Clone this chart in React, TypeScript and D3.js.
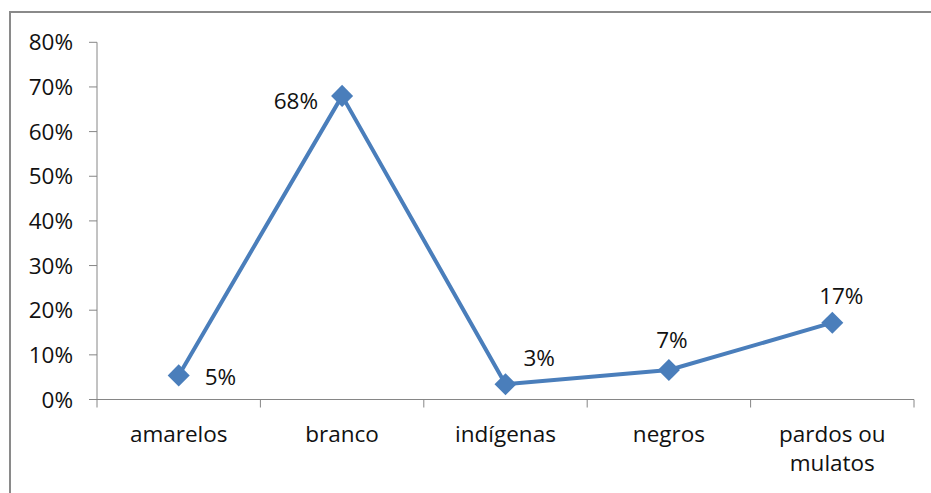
import React from "react";
import * as d3 from "d3";

const categories = ["amarelos", "branco", "indígenas", "negros", "pardos ou mulatos"];
const shares = [0.054, 0.68, 0.034, 0.066, 0.172];
const yTicks = [0, 0.1, 0.2, 0.3, 0.4, 0.5, 0.6, 0.7, 0.8];

const W = 931;
const H = 493;
const plot = { left: 97, right: 914, top: 42.3, bottom: 399.5 };
const FONT = "'Open Sans', 'Noto Sans', sans-serif";
const FS = 22.5;
const INK = "#111";
const LINE = "#4a7ebb";
const AXIS = "#868686";

// label offsets relative to each point: [dx, dy, anchor]
const labelPos: [number, number, string][] = [
  [26, 2, "start"],
  [-24, 5.5, "end"],
  [18, -26, "start"],
  [3, -30, "middle"],
  [9, -27, "middle"],
];

export default function App() {
  const x = d3.scaleBand<string>().domain(categories).range([plot.left, plot.right]);
  const y = d3.scaleLinear().domain([0, 0.8]).range([plot.bottom, plot.top]);
  const fmt = d3.format(".0%");
  const cx = (c: string) => (x(c) as number) + x.bandwidth() / 2;

  const line = d3
    .line<number>()
    .x((_, i) => cx(categories[i]))
    .y((d) => y(d));

  const diamond = d3.symbol(d3.symbolDiamond2, 310)();
  const boundaries = [...categories.map((c) => x(c) as number), plot.right];

  return (
    <svg width={W} height={H} style={{ position: "absolute", left: 0, top: 0, background: "#fff" }}>
      {/* outer frame */}
      <rect x={10} y={12} width={W + 10} height={H + 10} fill="none" stroke="#8a8a8a" strokeWidth={2} />

      {/* y axis */}
      <line x1={plot.left} x2={plot.left} y1={plot.top} y2={plot.bottom} stroke={AXIS} strokeWidth={1} />
      {yTicks.map((t) => (
        <g key={t}>
          <line x1={plot.left - 8} x2={plot.left} y1={y(t)} y2={y(t)} stroke={AXIS} />
          <text x={73} y={y(t)} dy="0.36em" textAnchor="end" fontFamily={FONT} fontSize={FS} fill={INK}>
            {fmt(t)}
          </text>
        </g>
      ))}

      {/* x axis */}
      <line x1={plot.left} x2={plot.right} y1={plot.bottom} y2={plot.bottom} stroke={AXIS} />
      {boundaries.map((b, i) => (
        <line key={i} x1={b} x2={b} y1={plot.bottom} y2={plot.bottom + 8} stroke={AXIS} />
      ))}
      {categories.map((c) => {
        const words = c === "pardos ou mulatos" ? ["pardos ou", "mulatos"] : [c];
        return (
          <text key={c} x={cx(c)} y={442} textAnchor="middle" fontFamily={FONT} fontSize={FS} fill={INK}>
            {words.map((w, i) => (
              <tspan key={w} x={cx(c)} dy={i === 0 ? 0 : 29}>
                {w}
              </tspan>
            ))}
          </text>
        );
      })}

      {/* series */}
      <path d={line(shares) ?? ""} fill="none" stroke={LINE} strokeWidth={4} strokeLinejoin="round" />
      {shares.map((v, i) => (
        <path key={i} d={diamond ?? ""} transform={`translate(${cx(categories[i])},${y(v)})`} fill={LINE} />
      ))}
      {shares.map((v, i) => {
        const [dx, dy, anchor] = labelPos[i];
        return (
          <text
            key={i}
            x={cx(categories[i]) + dx}
            y={y(v) + dy}
            dy="0.36em"
            textAnchor={anchor as any}
            fontFamily={FONT}
            fontSize={FS}
            fill={INK}
          >
            {fmt(v)}
          </text>
        );
      })}
    </svg>
  );
}
